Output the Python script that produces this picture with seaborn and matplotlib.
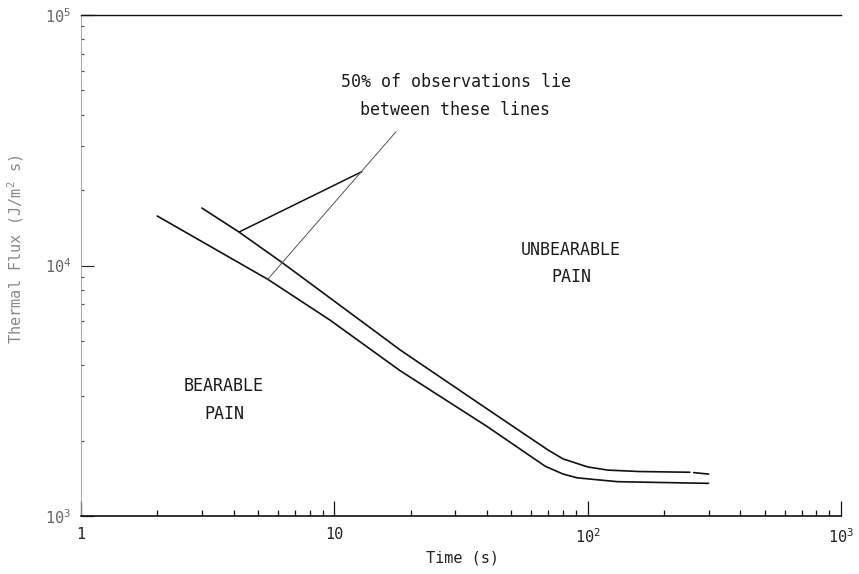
import matplotlib
matplotlib.use("Agg")
import matplotlib.pyplot as plt
import matplotlib.ticker as mticker
import seaborn as sns
import numpy as np

# ---- data ----
upper_t = [3.0, 4.2, 6.2, 12.6, 18.2, 40, 70, 80, 100, 120, 160, 253]
upper_flux = [16960, 13610, 10300, 6060, 4600, 2680, 1830, 1690, 1570, 1525, 1505, 1495]
upper_tail_t = [262, 300]
upper_tail_flux = [1490, 1470]

lower_t = [2.0, 5.46, 9.6, 18.2, 40, 68, 80, 91, 131, 200, 300]
lower_flux = [15760, 8810, 6060, 3800, 2280, 1580, 1470, 1420, 1371, 1360, 1350]

pointer_solid_t = [4.21, 12.83]
pointer_solid_flux = [13610, 23680]
pointer_thin_t = [5.46, 17.52]
pointer_thin_flux = [8810, 34200]

x_ticks = [1, 10, 100, 1000]
x_tick_labels = ["1", "10", "10$^2$", "10$^3$"]
y_ticks = [1e3, 1e4, 1e5]
y_tick_labels = ["10$^3$", "10$^4$", "10$^5$"]

# ---- style ----
sns.set_style("white")
plt.rcParams["font.family"] = ["DejaVu Sans Mono", "DejaVu Sans"]
plt.rcParams["mathtext.fontset"] = "custom"
plt.rcParams["mathtext.rm"] = "DejaVu Sans Mono"
plt.rcParams["mathtext.it"] = "DejaVu Sans Mono"
plt.rcParams["mathtext.bf"] = "DejaVu Sans Mono"

fig = plt.figure(figsize=(8.59, 5.74), dpi=100)
ax = fig.add_axes([81 / 859, 1 - 516 / 574, (841 - 81) / 859, (516 - 15) / 574])
ax.set_xscale("log")
ax.set_yscale("log")
ax.set_xlim(1, 1000)
ax.set_ylim(1e3, 1e5)

ink = "#111111"
sns.lineplot(x=upper_t, y=upper_flux, ax=ax, color=ink, lw=1.2, sort=False, estimator=None)
sns.lineplot(x=upper_tail_t, y=upper_tail_flux, ax=ax, color=ink, lw=1.2, sort=False, estimator=None)
sns.lineplot(x=lower_t, y=lower_flux, ax=ax, color=ink, lw=1.2, sort=False, estimator=None)
sns.lineplot(x=pointer_solid_t, y=pointer_solid_flux, ax=ax, color=ink, lw=1.1, sort=False, estimator=None)
sns.lineplot(x=pointer_thin_t, y=pointer_thin_flux, ax=ax, color="#555555", lw=0.7, sort=False, estimator=None)

# spines
ax.spines["right"].set_visible(False)
ax.spines["top"].set_color(ink)
ax.spines["top"].set_linewidth(1.0)
ax.spines["bottom"].set_color(ink)
ax.spines["bottom"].set_linewidth(1.2)
ax.spines["left"].set_color("#999999")
ax.spines["left"].set_linewidth(0.6)

# ticks
ax.xaxis.set_major_locator(mticker.FixedLocator(x_ticks))
ax.xaxis.set_major_formatter(mticker.FixedFormatter(x_tick_labels))
ax.xaxis.set_minor_locator(mticker.LogLocator(base=10, subs=np.arange(2, 10)))
ax.xaxis.set_minor_formatter(mticker.NullFormatter())
ax.yaxis.set_major_locator(mticker.FixedLocator(y_ticks))
ax.yaxis.set_major_formatter(mticker.FixedFormatter(y_tick_labels))
ax.yaxis.set_minor_locator(mticker.LogLocator(base=10, subs=np.arange(2, 10)))
ax.yaxis.set_minor_formatter(mticker.NullFormatter())

ax.tick_params(axis="x", which="major", direction="in", length=11, width=0.9, color=ink,
               bottom=True, top=False, labelsize=11, pad=8, labelcolor="#222222")
ax.tick_params(axis="x", which="minor", direction="in", length=4, width=0.9, color=ink,
               bottom=True, top=False)
ax.tick_params(axis="y", which="major", direction="in", length=9, width=0.9, color="#333333",
               left=True, right=False, labelsize=11, pad=7, labelcolor="#666666")
ax.tick_params(axis="y", which="minor", direction="in", length=2.5, width=0.9, color="#555555",
               left=True, right=False)

ax.set_xlabel("Time (s)", fontsize=11, color="#222222")
ax.xaxis.set_label_coords(0.502, -0.068)
ax.set_ylabel("Thermal Flux (J/m$^2$ s)", fontsize=11, color="#888888")
ax.yaxis.set_label_coords(-0.072, 0.533)

# annotations
txt_kw = dict(fontsize=12, color="#1a1a1a", ha="center", va="center")


def fig_text(px, py, s):
    fig.text(px / 859, 1 - py / 574, s, **txt_kw)


fig_text(456, 82, "50% of observations lie")
fig_text(455, 110, "between these lines")
fig_text(571, 250, "UNBEARABLE")
fig_text(571, 277, "PAIN")
fig_text(224, 386, "BEARABLE")
fig_text(224, 414, "PAIN")

fig.savefig("out.png", dpi=100, facecolor="white")
